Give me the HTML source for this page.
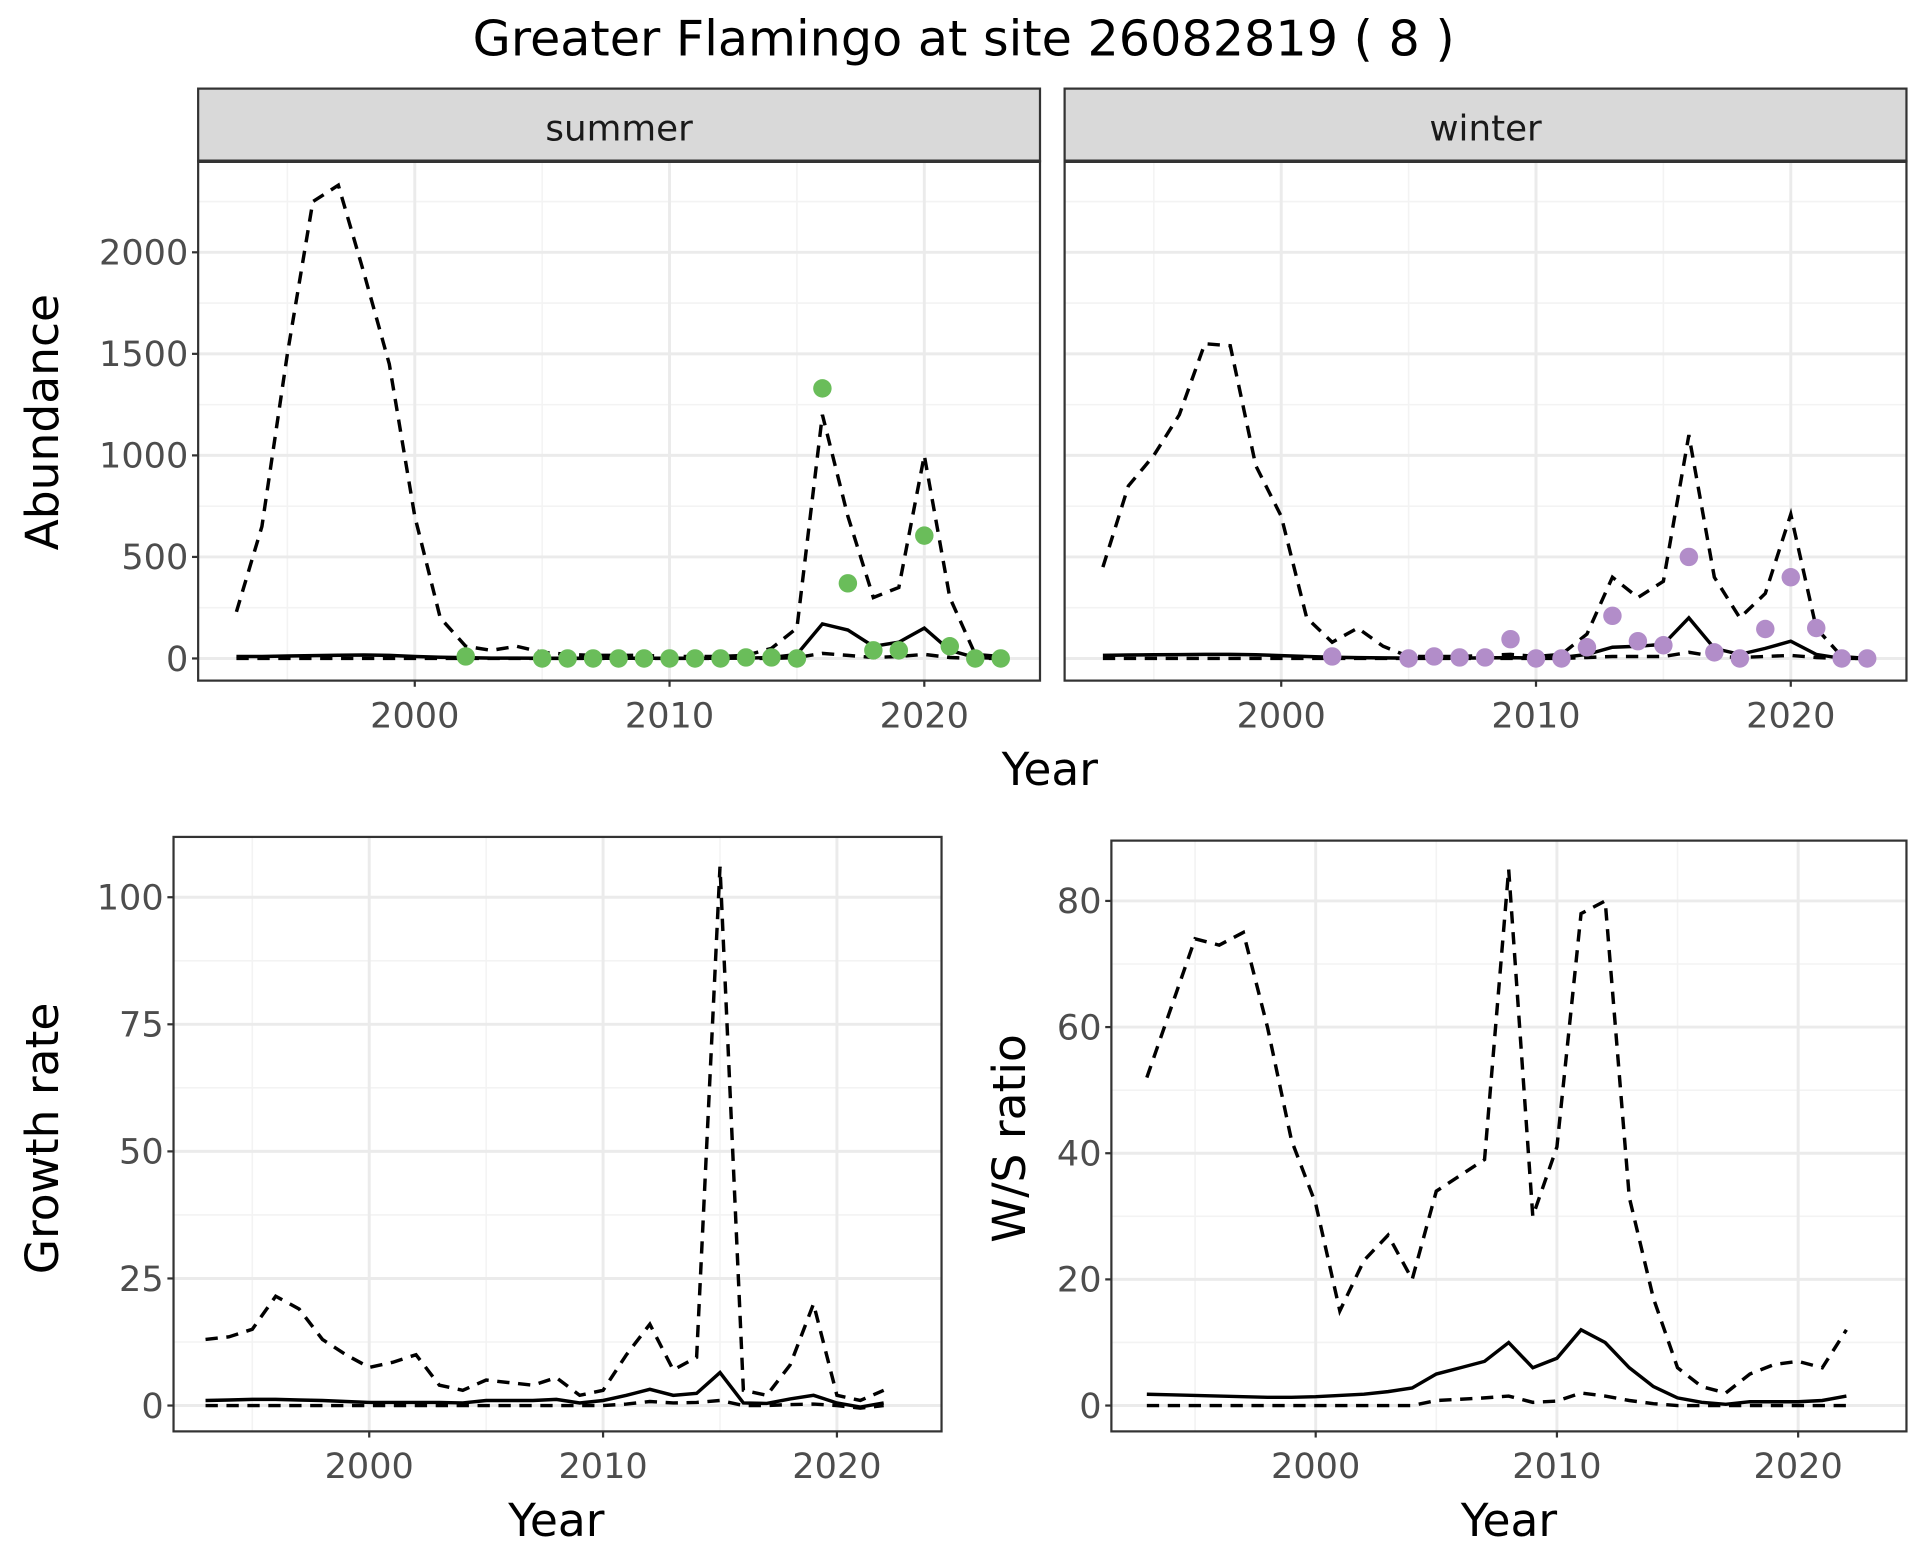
<!DOCTYPE html>
<html><head><meta charset="utf-8"><style>
body{margin:0;background:#fff}
svg{display:block}
text{font-family:"DejaVu Sans","Liberation Sans",sans-serif}
</style></head><body>
<svg id="chart" width="1920" height="1560" viewBox="0 0 1560 1267.5" preserveAspectRatio="none" xmlns="http://www.w3.org/2000/svg">
<text x="783" y="45" font-size="40" text-anchor="middle">Greater Flamingo at site 26082819 ( 8 )</text>
</svg>
<script>
const yearsA = [1993,1994,1995,1996,1997,1998,1999,2000,2001,2002,2003,2004,2005,2006,2007,2008,2009,2010,2011,2012,2013,2014,2015,2016,2017,2018,2019,2020,2021,2022,2023];
const summerUpper = [230,650,1500,2250,2330,1900,1450,700,200,60,40,60,30,20,15,15,15,10,10,10,15,50,150,1200,700,300,350,1000,300,20,10];
const summerMid = [10,10,12,14,16,17,15,10,6,4,2,2,1,1,1,1,1,1,1,1,2,5,20,170,140,60,80,150,40,5,0];
const summerLower = [0,0,0,0,0,0,0,0,0,0,0,0,0,0,0,0,0,0,0,0,0,0,5,25,15,5,10,20,5,0,0];
const summerObsYears = [2002,2005,2006,2007,2008,2009,2010,2011,2012,2013,2014,2015,2016,2017,2018,2019,2020,2021,2022,2023];
const summerObs = [10,0,0,0,0,0,0,0,0,5,5,0,1330,370,40,40,605,60,0,0];
const winterUpper = [450,850,1000,1200,1550,1540,950,700,200,80,150,60,10,10,10,15,20,10,20,120,400,300,380,1100,400,200,320,710,150,10,0];
const winterMid = [15,17,18,19,20,20,18,14,10,6,4,3,2,2,2,3,4,2,5,20,55,60,70,200,50,20,50,85,20,0,0];
const winterLower = [0,0,0,0,0,0,0,0,0,0,0,0,0,0,0,0,0,0,0,5,10,10,10,30,10,5,10,15,5,0,0];
const winterObsYears = [2002,2005,2006,2007,2008,2009,2010,2011,2012,2013,2014,2015,2016,2017,2018,2019,2020,2021,2022,2023];
const winterObs = [10,0,10,5,5,95,0,0,55,210,85,65,500,30,0,145,400,150,0,0];
const yearsB = [1993,1994,1995,1996,1997,1998,1999,2000,2001,2002,2003,2004,2005,2006,2007,2008,2009,2010,2011,2012,2013,2014,2015,2016,2017,2018,2019,2020,2021,2022];
const growthUpper = [13,13.5,15,21.5,19,13,10,7.5,8.5,10,4,3,5,4.5,4,5.5,2,3,10,16,7,9.5,106,3,2,8,20,2,1,3];
const growthMid = [1,1.1,1.2,1.2,1.1,1,0.8,0.6,0.6,0.6,0.6,0.5,1,1,1,1.2,0.5,1,2,3.2,2,2.4,6.5,0.5,0.4,1.3,2,0.5,-0.3,0.5];
const growthLower = [0,0,0,0,0,0,0,0,0,0,0,0,0,0,0,0,0,0,0.3,0.8,0.5,0.6,1,0,0,0.2,0.3,0,-0.5,0];
const wsUpper = [52,63,74,73,75,60,42,32,15,23,27,20,34,36.5,39,85,30,41,78,80,33,17,6,3,2,5,6.5,7,6,12];
const wsMid = [1.8,1.7,1.6,1.5,1.4,1.3,1.3,1.4,1.6,1.8,2.2,2.8,5,6,7,10,6,7.5,12,10,6,3,1.2,0.5,0.2,0.6,0.6,0.6,0.8,1.5];
const wsLower = [0,0,0,0,0,0,0,0,0,0,0,0,0.8,1,1.2,1.5,0.5,0.7,2,1.5,0.8,0.3,0,0,0,0,0,0,0,0];
const xTicks = [2000,2010,2020];
const abTicks = [0,500,1000,1500,2000];
const grTicks = [0,25,50,75,100];
const wsTicks = [0,20,40,60,80];

const svg = document.getElementById('chart');
const NS = 'http://www.w3.org/2000/svg';
function mk(tag, attrs, parent){const e=document.createElementNS(NS,tag);for(const k in attrs)e.setAttribute(k,attrs[k]);(parent||svg).appendChild(e);return e;}

function panel(p){
  const g=mk('g',{});
  
  
  const sx=v=>p.x0px+(v-2000)*p.xs;
  const sy=v=>p.y0px-v*p.ys;
  mk('rect',{x:p.l,y:p.t,width:p.r-p.l,height:p.b-p.t,fill:'#fff'},g);
  for(let v=p.xmin;v<=p.xmax;v+=5){const x=sx(v);if(x>p.l&&x<p.r&&v%10!==0)mk('line',{x1:x,x2:x,y1:p.t,y2:p.b,stroke:'#f3f3f3','stroke-width':1.3},g);}
  for(let i=0;i<p.yt.length;i++){const v=p.yt[i]+(p.yt[1]-p.yt[0])/2;const y=sy(v);if(y>p.t&&y<p.b)mk('line',{x1:p.l,x2:p.r,y1:y,y2:y,stroke:'#f3f3f3','stroke-width':1.3},g);}
  const vm=p.yt[0]-(p.yt[1]-p.yt[0])/2;if(sy(vm)<p.b)mk('line',{x1:p.l,x2:p.r,y1:sy(vm),y2:sy(vm),stroke:'#f3f3f3','stroke-width':1.3},g);
  xTicks.forEach(v=>{const x=sx(v);mk('line',{x1:x,x2:x,y1:p.t,y2:p.b,stroke:'#ebebeb','stroke-width':2.4},g);});
  p.yt.forEach(v=>{const y=sy(v);mk('line',{x1:p.l,x2:p.r,y1:y,y2:y,stroke:'#ebebeb','stroke-width':2.4},g);});
  const line=(xs,ys,dash,nm)=>{const d=xs.map((x,i)=>(i?'L':'M')+sx(x).toFixed(1)+','+sy(ys[i]).toFixed(1)).join(' ');
    const e=mk('path',{d:d,fill:'none',stroke:'#000','stroke-width':2.8,'stroke-dasharray':dash?'10,7':'none'},g);
    
    };
  line(p.years,p.upper,true,'upper-bound-line');
  line(p.years,p.mid,false,'estimate-line');
  line(p.years,p.lower,true,'lower-bound-line');
  if(p.obs){p.obsYears.forEach((yr,i)=>{const c=mk('circle',{cx:sx(yr),cy:sy(p.obs[i]),r:7.5,fill:p.color},g);
    
    });}
  mk('rect',{x:p.l,y:p.t,width:p.r-p.l,height:p.b-p.t,fill:'none',stroke:'#333','stroke-width':1.8},g);
  xTicks.forEach(v=>{const x=sx(v);mk('line',{x1:x,x2:x,y1:p.b,y2:p.b+5,stroke:'#333','stroke-width':1.8},g);
    const t=mk('text',{x:x,y:p.b+38,'font-size':28.5,'text-anchor':'middle',fill:'#4d4d4d'},g);t.textContent=v;
    
    });
  if(p.showY){p.yt.forEach(v=>{const y=sy(v);mk('line',{x1:p.l-5,x2:p.l,y1:y,y2:y,stroke:'#333','stroke-width':1.8},g);
    const t=mk('text',{x:p.l-8,y:y+10,'font-size':28.5,'text-anchor':'end',fill:'#4d4d4d'},g);t.textContent=v;
    
    });}
  if(p.strip){mk('rect',{x:p.l,y:72,width:p.r-p.l,height:p.t-72,fill:'#d9d9d9',stroke:'#333','stroke-width':1.8},g);
    mk('line',{x1:p.l,x2:p.r,y1:p.t,y2:p.t,stroke:'#333','stroke-width':2.8},g);
    const t=mk('text',{x:(p.l+p.r)/2,y:114,'font-size':29,'text-anchor':'middle',fill:'#1a1a1a'},g);t.textContent=p.strip;
    
    }
}
function label(txt,x,y,rot,nm){const t=mk('text',{x:x,y:y,'font-size':37,'text-anchor':'middle',fill:'#000',transform:rot?`rotate(-90 ${x} ${y})`:''});t.textContent=txt;
  
  }

panel({name:'summer-panel',l:161,r:845,t:131,b:553,x0px:337,xs:20.7,y0px:535,ys:0.165,xmin:1990,xmax:2025,yt:abTicks,years:yearsA,upper:summerUpper,mid:summerMid,lower:summerLower,obsYears:summerObsYears,obs:summerObs,color:'#6abd5a',showY:true,strip:'summer'});
panel({name:'winter-panel',l:865,r:1549,t:131,b:553,x0px:1041,xs:20.7,y0px:535,ys:0.165,xmin:1990,xmax:2025,yt:abTicks,years:yearsA,upper:winterUpper,mid:winterMid,lower:winterLower,obsYears:winterObsYears,obs:winterObs,color:'#b28dc9',showY:false,strip:'winter'});
panel({name:'growth-rate-panel',l:141,r:765,t:680,b:1163,x0px:300,xs:19,y0px:1142,ys:4.13,xmin:1990,xmax:2025,yt:grTicks,years:yearsB,upper:growthUpper,mid:growthMid,lower:growthLower,showY:true});
panel({name:'ws-ratio-panel',l:903,r:1549,t:683,b:1163,x0px:1069,xs:19.6,y0px:1142,ys:5.125,xmin:1990,xmax:2025,yt:wsTicks,years:yearsB,upper:wsUpper,mid:wsMid,lower:wsLower,showY:true});
label('Year',853,638,false,'x-axis-title-top');
label('Abundance',47,343,true,'y-axis-title-abundance');
label('Year',452,1248,false,'x-axis-title-growth');
label('Growth rate',47,925,true,'y-axis-title-growth');
label('Year',1226,1248,false,'x-axis-title-ws');
label('W/S ratio',833,925,true,'y-axis-title-ws');
</script>
</body></html>
